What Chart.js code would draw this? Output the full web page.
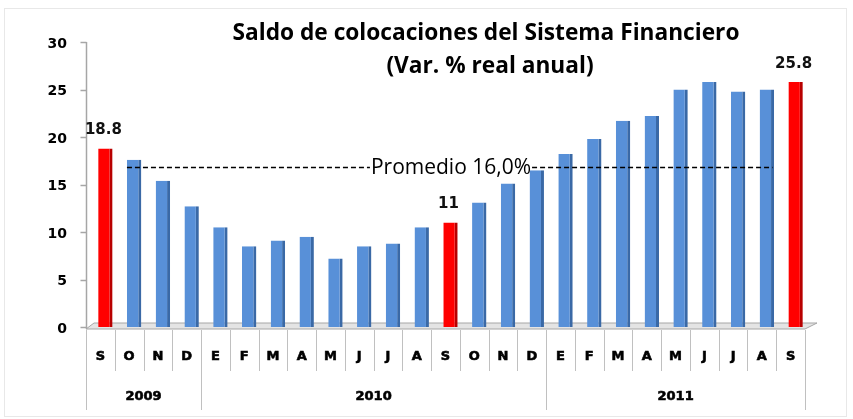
<!DOCTYPE html>
<html lang="es">
<head>
<meta charset="utf-8">
<title>Saldo de colocaciones del Sistema Financiero</title>
<script src="https://cdn.jsdelivr.net/npm/chart.js@4/dist/chart.umd.min.js"></script>
<style>
    html, body { margin: 0; padding: 0; background: #fff; }
    #wrap { position: relative; width: 853px; height: 419px; }
    #frame { position: absolute; left: 4px; top: 8px; width: 843px; height: 409px; border: 1px solid #e8e8e8; box-sizing: border-box; }
    canvas { position: absolute; left: 0; top: 0; }
</style>
</head>
<body>
<div id="wrap">
    <div id="frame"></div>
    <canvas id="chart" width="853" height="419"></canvas>
</div>
<script>
/* =========================
   DATOS
   ========================= */
const MESES = ['S', 'O', 'N', 'D',
    'E', 'F', 'M', 'A', 'M', 'J', 'J', 'A', 'S', 'O', 'N', 'D',
    'E', 'F', 'M', 'A', 'M', 'J', 'J', 'A', 'S'];

// var. % real anual
const VALORES = [18.8, 17.6, 15.4, 12.7,
    10.5, 8.5, 9.1, 9.5, 7.2, 8.5, 8.8, 10.5, 11.0, 13.1, 15.1, 16.5,
    18.2, 19.8, 21.7, 22.2, 25.0, 25.8, 24.8, 25.0, 25.8];

// meses destacados en rojo (con etiqueta)
const DESTACADOS = [0, 12, 24];
const ETIQUETAS = ['18.8', '11', '25.8'];

// años: [texto, primer índice, último índice]
const ANIOS = [['2009', 0, 3], ['2010', 4, 15], ['2011', 16, 24]];

const Y_TICKS = [0, 5, 10, 15, 20, 25, 30];

const PROMEDIO_NIVEL = 16.8;         // altura a la que está dibujada la línea
const PROMEDIO_TEXTO = 'Promedio 16,0%';
const PROMEDIO_DESDE = 1;            // O 2009
const PROMEDIO_HASTA = 23;           // A 2011

const TITULO = ['Saldo de colocaciones del Sistema Financiero', '(Var. % real anual)'];

/* =========================
   ESTILO
   ========================= */
const AZUL = '#5890d8';
const AZUL_OSCURO = '#3a69a6';
const ROJO = '#ff0000';
const ROJO_OSCURO = '#b80000';
const GRIS = '#a6a6a6';
const PROF = 5;   // desplazamiento "3D" entre el eje y las barras

function esDestacado(i) {
    return DESTACADOS.indexOf(i) !== -1;
}

/* =========================
   PLUGINS
   ========================= */
const piso3d = {
    id: 'piso3d',
    beforeDatasetsDraw(chart) {
        const { ctx, chartArea } = chart;
        const yS = chart.scales.y;
        const y = yS.getPixelForValue(0) + 2;
        const left = chartArea.left - PROF;
        const right = chartArea.right - PROF;
        ctx.save();
        ctx.beginPath();
        ctx.moveTo(left, y);
        ctx.lineTo(right, y);
        ctx.lineTo(right + 12, y - 6);
        ctx.lineTo(left + 8, y - 6);
        ctx.closePath();
        ctx.fillStyle = '#e4e4e4';
        ctx.fill();
        ctx.strokeStyle = GRIS;
        ctx.lineWidth = 1;
        ctx.stroke();

        // eje vertical y marcas
        const ax = left + 0.5;
        ctx.lineWidth = 1.5;
        ctx.beginPath();
        ctx.moveTo(ax, yS.getPixelForValue(30));
        ctx.lineTo(ax, y);
        Y_TICKS.forEach(v => {
            const py = Math.round(yS.getPixelForValue(v)) + 0.5;
            ctx.moveTo(ax - 6, py);
            ctx.lineTo(ax, py);
        });
        ctx.stroke();
        ctx.restore();
    }
};

const ejeMeses = {
    id: 'ejeMeses',
    afterDraw(chart) {
        const { ctx, chartArea } = chart;
        const x = chart.scales.x;
        const paso = (chartArea.right - chartArea.left) / MESES.length;
        const yTop = chart.scales.y.getPixelForValue(0) + 3;

        ctx.save();
        ctx.strokeStyle = '#c0c0c0';
        ctx.lineWidth = 1;

        // separadores de meses
        for (let i = 0; i <= MESES.length; i++) {
            const px = Math.round(chartArea.left - PROF + i * paso) + 0.5;
            const esAnio = i === 0 || ANIOS.some(a => a[1] === i) || i === MESES.length;
            ctx.beginPath();
            ctx.moveTo(px, yTop);
            ctx.lineTo(px, esAnio ? 410 : 371);
            ctx.stroke();
        }

        ctx.fillStyle = '#000';
        ctx.strokeStyle = '#000';
        ctx.lineWidth = 0.6;
        ctx.textAlign = 'center';
        ctx.textBaseline = 'middle';
        ctx.font = 'bold 13px "DejaVu Sans"';
        MESES.forEach((m, i) => {
            const px = x.getPixelForValue(i) - PROF;
            ctx.fillText(m, px, 357);
            ctx.strokeText(m, px, 357);
        });

        ctx.font = 'bold 13px "DejaVu Sans"';
        ANIOS.forEach(([txt, a, b]) => {
            const cx = (x.getPixelForValue(a) + x.getPixelForValue(b)) / 2 - PROF;
            ctx.fillText(txt, cx, 397);
            ctx.strokeText(txt, cx, 397);
        });
        ctx.restore();
    }
};

const promedio = {
    id: 'promedio',
    afterDatasetsDraw(chart) {
        const { ctx } = chart;
        const x = chart.scales.x;
        const y = Math.round(chart.scales.y.getPixelForValue(PROMEDIO_NIVEL)) + 0.5;
        const paso = x.getPixelForValue(1) - x.getPixelForValue(0);
        const x0 = x.getPixelForValue(PROMEDIO_DESDE) - paso * 0.25;
        const x1 = x.getPixelForValue(PROMEDIO_HASTA) + paso * 0.2;

        ctx.save();
        ctx.font = '21px "Open Sans"';
        const w = ctx.measureText(PROMEDIO_TEXTO).width;
        const cx = 451;
        ctx.strokeStyle = '#000';
        ctx.lineWidth = 1.3;
        ctx.setLineDash([5, 3]);
        ctx.beginPath();
        ctx.moveTo(x0, y);
        ctx.lineTo(cx - w / 2 - 1, y);
        ctx.moveTo(cx + w / 2 + 1, y);
        ctx.lineTo(x1, y);
        ctx.stroke();

        ctx.fillStyle = '#000';
        ctx.textAlign = 'center';
        ctx.textBaseline = 'middle';
        ctx.fillText(PROMEDIO_TEXTO, cx, y + 1);
        ctx.restore();
    }
};

const etiquetas = {
    id: 'etiquetas',
    afterDatasetsDraw(chart) {
        const { ctx } = chart;
        const meta = chart.getDatasetMeta(0);
        ctx.save();
        ctx.font = 'bold 15px "DejaVu Sans"';
        ctx.fillStyle = '#111';
        ctx.textAlign = 'center';
        ctx.textBaseline = 'middle';
        DESTACADOS.forEach((idx, k) => {
            const bar = meta.data[idx];
            ctx.fillText(ETIQUETAS[k], bar.x - 2, bar.y - 18);
        });
        ctx.restore();
    }
};

const titulo = {
    id: 'titulo',
    afterDraw(chart) {
        const { ctx } = chart;
        ctx.save();
        ctx.fillStyle = '#000';
        ctx.textAlign = 'center';
        ctx.textBaseline = 'middle';
        ctx.font = 'bold 22.7px "Open Sans"';
        ctx.fillText(TITULO[0], 486, 34);
        ctx.fillText(TITULO[1], 490, 67);
        ctx.restore();
    }
};

/* =========================
   CHART
   ========================= */
function initChart() {
    const canvas = document.getElementById('chart');

    new Chart(canvas, {
        type: 'bar',
        data: {
            labels: MESES,
            datasets: [{
                data: VALORES,
                backgroundColor: VALORES.map((v, i) => esDestacado(i) ? ROJO : AZUL),
                borderColor: VALORES.map((v, i) => esDestacado(i) ? ROJO_OSCURO : AZUL_OSCURO),
                borderWidth: { top: 0, left: 0, bottom: 0, right: 3 },
                borderSkipped: false,
                barPercentage: 0.5,
                categoryPercentage: 1.0
            }]
        },
        options: {
            responsive: false,
            animation: false,
            layout: { padding: { left: 0, right: 43, top: 42, bottom: 92 } },
            plugins: {
                legend: { display: false },
                title: { display: false },
                tooltip: { enabled: false }
            },
            scales: {
                x: {
                    display: false,
                    offset: true
                },
                y: {
                    min: 0,
                    max: 30,
                    afterFit(s) { s.width = 91; },
                    afterBuildTicks(s) { s.ticks = Y_TICKS.map(v => ({ value: v })); },
                    border: { display: false },
                    grid: { display: false },
                    ticks: {
                        color: '#000',
                        padding: 16,
                        labelOffset: 2,
                        font: { family: '"DejaVu Sans"', weight: 'bold', size: 14 }
                    }
                }
            }
        },
        plugins: [piso3d, ejeMeses, promedio, etiquetas, titulo]
    });
}

document.addEventListener('DOMContentLoaded', initChart);
</script>
</body>
</html>
